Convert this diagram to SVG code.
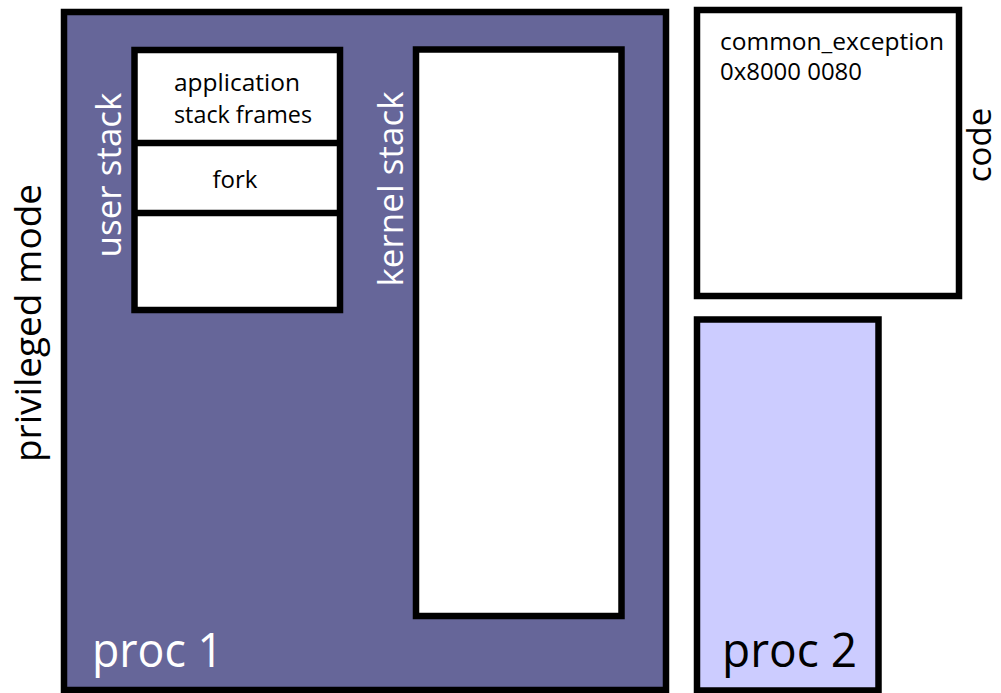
<svg xmlns="http://www.w3.org/2000/svg" width="1001" height="693" viewBox="0 0 1001 693">
<style>
.box{stroke:#000;stroke-width:6.5}
.t{font-family:"Open Sans","Noto Sans",sans-serif}
.w{fill:#fff}
.k{fill:#000}
</style>
<rect width="1001" height="693" fill="#fff"/>
<g id="privileged-mode-label">
<text class="t k" font-size="37" text-anchor="middle" transform="translate(41,323) rotate(-90)">privileged mode</text>
</g>
<g id="proc1">
<rect class="box" x="64" y="12" width="602" height="678" fill="#666699"/>
<text class="t w" x="92" y="667" font-size="48" textLength="131" lengthAdjust="spacingAndGlyphs">proc 1</text>
</g>
<g id="user-stack">
<rect class="box" x="134.5" y="50" width="205.5" height="260" fill="#fff"/>
<line class="box" x1="134.5" y1="143" x2="340" y2="143"/>
<line class="box" x1="134.5" y1="213" x2="340" y2="213"/>
<text class="t k" font-size="24" x="174" y="91" textLength="126" lengthAdjust="spacingAndGlyphs">application</text>
<text class="t k" font-size="24" x="174" y="123" textLength="138" lengthAdjust="spacingAndGlyphs">stack frames</text>
<text class="t k" font-size="24" text-anchor="middle" x="235" y="188">fork</text>
<text class="t w" font-size="35" text-anchor="middle" transform="translate(121,175) rotate(-90)">user stack</text>
</g>
<g id="kernel-stack">
<rect class="box" x="416" y="49.5" width="205.5" height="566.5" fill="#fff"/>
<text class="t w" font-size="35" text-anchor="middle" transform="translate(403,189) rotate(-90)">kernel stack</text>
</g>
<g id="code">
<rect class="box" x="697" y="10" width="262" height="286" fill="#fff" stroke-width="7"/>
<text class="t k" font-size="24.5" x="720" y="50">common_exception</text>
<text class="t k" font-size="24.5" x="720" y="80" textLength="142" lengthAdjust="spacingAndGlyphs">0x8000 0080</text>
<text class="t k" font-size="33" text-anchor="middle" transform="translate(991,145) rotate(-90)">code</text>
</g>
<g id="proc2">
<rect class="box" x="697" y="319.5" width="181.5" height="371" fill="#ccccff" stroke-width="7"/>
<text class="t k" x="722" y="667" font-size="48" textLength="135" lengthAdjust="spacingAndGlyphs">proc 2</text>
</g>
<g id="connectors"/>
</svg>
